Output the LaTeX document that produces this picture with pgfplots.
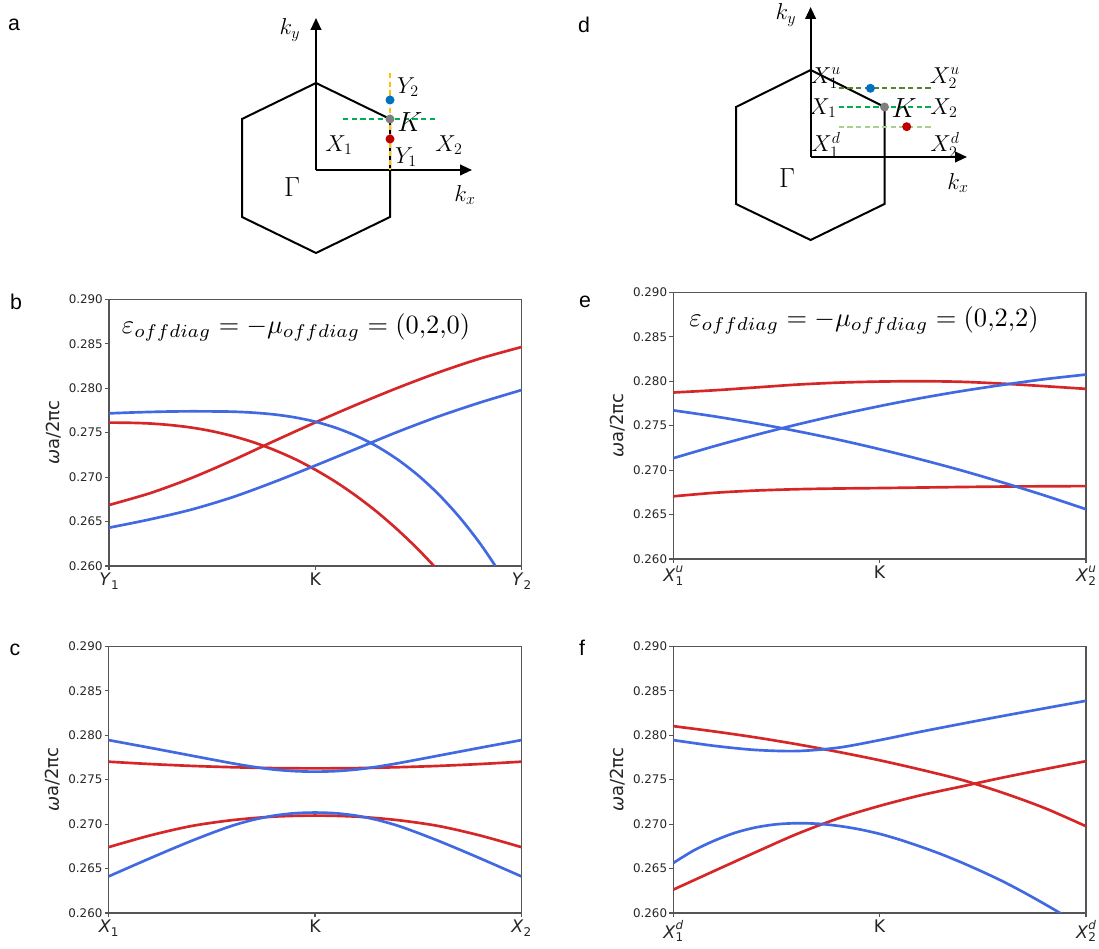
\documentclass[border=0pt]{standalone}
\usepackage[no-math]{fontspec}
\setmainfont{DejaVu Sans}
\newfontfamily\arial{Liberation Sans}
\usepackage{graphicx}
\usepackage{pgfplots}
\pgfplotsset{compat=1.18}
\usetikzlibrary{arrows.meta}
\definecolor{cred}{HTML}{D62728}
\definecolor{cblue}{HTML}{4169E1}
\definecolor{axcol}{HTML}{555555}
\definecolor{tcol}{HTML}{262626}
\definecolor{corange}{HTML}{FFC000}
\definecolor{cgreen}{HTML}{00B050}
\definecolor{colive}{HTML}{548235}
\definecolor{clight}{HTML}{A9D18E}
\definecolor{cbluedot}{HTML}{0070C0}
\definecolor{cgray}{HTML}{7F7F7F}
\definecolor{creddot}{HTML}{C00000}
\newcommand\lbl[2]{\textit{#1}\raisebox{-0.4ex}{\fontsize{9}{9}\selectfont #2}}
\newcommand\lblud[3]{\textit{#1}\rlap{\raisebox{0.95ex}{\fontsize{9}{9}\selectfont\itshape #3}}\raisebox{-0.4ex}{\fontsize{9}{9}\selectfont #2}}
\newcommand\dg[1]{\fontsize{18.5}{20}\selectfont$#1$}
\newcommand\dK{\fontsize{22}{24}\selectfont$K$}
\pgfplotsset{band/.style={
  scale only axis, width=309.5pt, height=200pt,
  xmin=0, xmax=1, ymin=0.26, ymax=0.29,
  xtick={0,0.5,1},
  ytick={0.26,0.265,0.27,0.275,0.28,0.285,0.29},
  yticklabels={0.260,0.265,0.270,0.275,0.280,0.285,0.290},
  tick pos=left, tick align=outside, major tick length=3pt,
  every tick/.style={axcol, line width=0.8pt},
  axis line style={axcol, line width=0.9pt},
  yticklabel style={font=\fontsize{8.9}{10}\selectfont, text=tcol, inner sep=1.5pt},
  xticklabel style={font=\fontsize{13}{14}\selectfont, text=tcol, inner sep=2pt},
  ylabel={\textit{ω}a/2πc},
  ylabel style={font=\fontsize{13.5}{14}\selectfont, text=tcol, at={(axis description cs:-0.135,0.5)}, anchor=center},
  every axis plot/.append style={line width=2pt, smooth, no markers},
}}
\begin{document}
\begin{tikzpicture}[x=0.75pt,y=0.75pt]
\useasboundingbox (0,0) rectangle (1099,949);
% ---------- panel a ----------
\draw[line width=1.5pt] (316,866)--(390,830)--(390,732)--(316,696)--(242,732)--(242,830)--cycle;
\draw[line width=1.5pt,-{Triangle[length=9pt,width=8pt]}] (316,779)--(316,931);
\draw[line width=1.5pt,-{Triangle[length=9pt,width=8pt]}] (316,779)--(472,779);
\draw[corange,line width=1.5pt,dash pattern=on 4pt off 2.5pt] (390,876)--(390,779);
\draw[cgreen,line width=1.5pt,dash pattern=on 4pt off 2.5pt] (343,830)--(437,830);
\fill[cbluedot] (390,849) circle (4.5);
\fill[cgray] (390,830) circle (4.5);
\fill[creddot] (390,810) circle (4.5);
\node at (290,919) {\fontsize{17.5}{18}\selectfont$k_y$};
\node at (465,754) {\fontsize{17.5}{18}\selectfont$k_x$};
\node at (408,862) {\dg{Y_2}};
\node at (410,827) {\dK};
\node at (339,804) {\dg{X_1}};
\node at (449,804) {\dg{X_2}};
\node at (406,792) {\dg{Y_1}};
\node at (292,762) {\fontsize{20}{22}\selectfont$\Gamma$};
\node[font=\arial\fontsize{16}{17}\selectfont] at (14,924) {a};
% ---------- panel d ----------
\draw[line width=1.5pt] (810.6,879)--(884.5,842)--(884.5,745)--(810.6,709)--(736,745)--(736,842)--cycle;
\draw[line width=1.5pt,-{Triangle[length=9pt,width=8pt]}] (810.6,792)--(810.6,942);
\draw[line width=1.5pt,-{Triangle[length=9pt,width=8pt]}] (810.6,792)--(967,792);
\draw[colive,line width=1.5pt,dash pattern=on 4pt off 2.5pt] (838.7,860.7)--(932,860.7);
\draw[cgreen,line width=1.5pt,dash pattern=on 4pt off 2.5pt] (838.7,842)--(932,842);
\draw[clight,line width=1.5pt,dash pattern=on 4pt off 2.5pt] (838.7,822.3)--(932,822.3);
\fill[cbluedot] (870.4,860.7) circle (4.5);
\fill[cgray] (884.5,842) circle (4.5);
\fill[creddot] (906.7,822.3) circle (4.5);
\node at (786,934) {\fontsize{17.5}{18}\selectfont$k_y$};
\node at (958,766) {\fontsize{17.5}{18}\selectfont$k_x$};
\node at (826,871) {\dg{X_1^u}};
\node at (945,871) {\dg{X_2^u}};
\node at (823,841) {\dg{X_1}};
\node at (904,841) {\dK};
\node at (944,841) {\dg{X_2}};
\node at (826,804) {\dg{X_1^d}};
\node at (945,804) {\dg{X_2^d}};
\node at (787,771) {\fontsize{20}{22}\selectfont$\Gamma$};
\node[font=\arial\fontsize{16}{17}\selectfont] at (584,924) {d};
% ---------- panel b ----------
\begin{axis}[band, at={(81.75pt,287.25pt)},
  xticklabels={\lbl{Y}{1}, K, \lbl{Y}{2}}]
\addplot[cred] coordinates {(0,0.26686)(0.1,0.26820)(0.2,0.26990)(0.3,0.27190)(0.4,0.27405)(0.5,0.27615)(0.6,0.27815)(0.7,0.28005)(0.8,0.28180)(0.9,0.28335)(1,0.28464)};
\addplot[cred] coordinates {(0,0.27613)(0.05,0.27611)(0.1,0.27603)(0.15,0.27585)(0.2,0.27557)(0.25,0.27516)(0.3,0.27461)(0.35,0.27392)(0.4,0.27306)(0.45,0.27204)(0.5,0.27083)(0.55,0.26944)(0.6,0.26785)(0.65,0.26606)(0.7,0.26405)(0.75,0.26183)(0.8,0.25938)};
\addplot[cblue] coordinates {(0,0.27717)(0.05,0.27726)(0.1,0.27733)(0.15,0.27738)(0.2,0.27740)(0.25,0.27739)(0.3,0.27736)(0.35,0.27725)(0.4,0.27705)(0.45,0.27672)(0.5,0.27623)(0.55,0.27554)(0.6,0.27462)(0.65,0.27344)(0.7,0.27196)(0.75,0.27016)(0.8,0.26800)(0.85,0.26545)(0.9,0.26248)(0.95,0.25905)};
\addplot[cblue] coordinates {(0,0.26431)(0.1,0.26525)(0.2,0.26635)(0.3,0.26775)(0.4,0.26945)(0.5,0.27130)(0.6,0.27320)(0.7,0.27510)(0.8,0.27685)(0.9,0.27840)(1,0.27980)};
\end{axis}
\node at (296,622) {\resizebox{261pt}{!}{$\varepsilon_{offdiag} = -\mu_{offdiag} = (0{,}2{,}0)$}};
\node[font=\arial\fontsize{16}{17}\selectfont] at (16,647) {b};
% ---------- panel c ----------
\begin{axis}[band, at={(81.5pt,27pt)},
  xticklabels={\lbl{X}{1}, K, \lbl{X}{2}}]
\addplot[cred] coordinates {(0,0.27702)(0.1,0.27676)(0.2,0.27655)(0.3,0.27640)(0.4,0.27630)(0.5,0.27627)(0.6,0.27630)(0.7,0.27640)(0.8,0.27655)(0.9,0.27676)(1,0.27702)};
\addplot[cred] coordinates {(0,0.26741)(0.1,0.26872)(0.2,0.26978)(0.3,0.27045)(0.4,0.27084)(0.5,0.27096)(0.6,0.27084)(0.7,0.27045)(0.8,0.26978)(0.9,0.26872)(1,0.26741)};
\addplot[cblue] coordinates {(0,0.27945)(0.05,0.27902)(0.1,0.27859)(0.15,0.27815)(0.2,0.27771)(0.25,0.27727)(0.3,0.27684)(0.35,0.27645)(0.4,0.27614)(0.45,0.27596)(0.5,0.2759)(0.55,0.27596)(0.6,0.27614)(0.65,0.27645)(0.7,0.27684)(0.75,0.27727)(0.8,0.27771)(0.85,0.27815)(0.9,0.27859)(0.95,0.27902)(1,0.27945)};
\addplot[cblue] coordinates {(0,0.26412)(0.05,0.26514)(0.1,0.26615)(0.15,0.26714)(0.2,0.26810)(0.25,0.26900)(0.3,0.26983)(0.35,0.27048)(0.4,0.27095)(0.45,0.27122)(0.5,0.2713)(0.55,0.27122)(0.6,0.27095)(0.65,0.27048)(0.7,0.26983)(0.75,0.26900)(0.8,0.26810)(0.85,0.26714)(0.9,0.26615)(0.95,0.26514)(1,0.26412)};
\end{axis}
\node[font=\arial\fontsize{16}{17}\selectfont] at (15,299) {c};
% ---------- panel e ----------
\begin{axis}[band, at={(505pt,292.5pt)},
  xticklabels={\lblud{X}{1}{u}, K, \lblud{X}{2}{u}}]
\addplot[cred] coordinates {(0,0.27873)(0.1,0.27898)(0.2,0.27930)(0.3,0.27962)(0.4,0.27984)(0.5,0.27996)(0.6,0.28000)(0.7,0.27993)(0.8,0.27972)(0.9,0.27944)(1,0.27914)};
\addplot[cred] coordinates {(0,0.26705)(0.1,0.26745)(0.2,0.26770)(0.3,0.26785)(0.4,0.26793)(0.5,0.26798)(0.6,0.26804)(0.7,0.26810)(0.8,0.26815)(0.9,0.26818)(1,0.2682)};
\addplot[cblue] coordinates {(0,0.27672)(0.1,0.27604)(0.2,0.27526)(0.3,0.27438)(0.4,0.27342)(0.5,0.27235)(0.6,0.27119)(0.7,0.26994)(0.8,0.26858)(0.9,0.26714)(1,0.2656)};
\addplot[cblue] coordinates {(0,0.27134)(0.1,0.2727)(0.2,0.27396)(0.3,0.27513)(0.4,0.27621)(0.5,0.2772)(0.6,0.2781)(0.7,0.2789)(0.8,0.2796)(0.9,0.28023)(1,0.28075)};
\end{axis}
\node at (864,629) {\resizebox{262pt}{!}{$\varepsilon_{offdiag} = -\mu_{offdiag} = (0{,}2{,}2)$}};
\node[font=\arial\fontsize{16}{17}\selectfont] at (585,647) {e};
% ---------- panel f ----------
\begin{axis}[band, at={(505pt,27pt)},
  xticklabels={\lblud{X}{1}{d}, K, \lblud{X}{2}{d}}]
\addplot[cred] coordinates {(0,0.28102)(0.1,0.28042)(0.2,0.27975)(0.3,0.27898)(0.4,0.27812)(0.5,0.27718)(0.6,0.27612)(0.7,0.27496)(0.8,0.27350)(0.9,0.27180)(1,0.26976)};
\addplot[cred] coordinates {(0,0.26263)(0.1,0.26475)(0.2,0.26685)(0.3,0.26890)(0.4,0.27065)(0.5,0.27205)(0.6,0.27325)(0.7,0.27425)(0.8,0.27525)(0.9,0.27618)(1,0.27708)};
\addplot[cblue] coordinates {(0,0.27945)(0.1,0.27880)(0.2,0.27834)(0.3,0.27822)(0.4,0.27860)(0.5,0.27945)(0.6,0.28040)(0.7,0.28130)(0.8,0.28218)(0.9,0.28303)(1,0.28387)};
\addplot[cblue] coordinates {(0,0.26563)(0.05,0.26705)(0.1,0.26815)(0.15,0.26903)(0.2,0.26963)(0.25,0.26998)(0.3,0.27010)(0.35,0.27004)(0.4,0.26980)(0.45,0.26942)(0.5,0.26890)(0.55,0.26823)(0.6,0.26745)(0.65,0.26660)(0.7,0.26565)(0.75,0.26462)(0.8,0.26352)(0.85,0.26230)(0.9,0.26100)(0.95,0.25965)};
\end{axis}
\node[font=\arial\fontsize{16}{17}\selectfont] at (582,301) {f};
\end{tikzpicture}
\end{document}
